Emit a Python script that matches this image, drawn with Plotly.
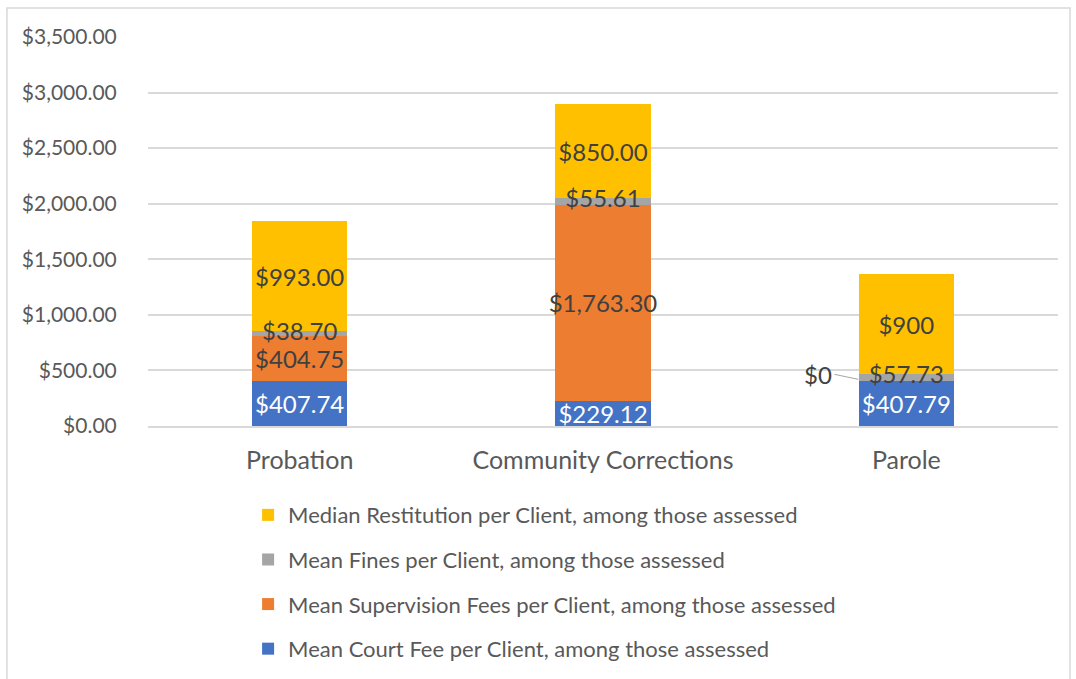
import plotly.graph_objects as go

# categories and series
categories = ['Probation', 'Community Corrections', 'Parole']

court_fee = [407.74, 229.12, 407.79]
supervision_fee = [404.75, 1763.30, 0]
fines = [38.70, 55.61, 57.73]
restitution = [993.00, 850.00, 900]

court_labels = ['$407.74', '$229.12', '$407.79']
supervision_labels = ['$404.75', '$1,763.30', '']
fines_labels = ['$38.70', '$55.61', '$57.73']
restitution_labels = ['$993.00', '$850.00', '$900']

series = [
    ('Mean Court Fee per Client, among those assessed', court_fee, court_labels, '#4472C4', 'white'),
    ('Mean Supervision Fees per Client, among those assessed', supervision_fee, supervision_labels, '#ED7D31', '#404040'),
    ('Mean Fines per Client, among those assessed', fines, fines_labels, '#A5A5A5', '#404040'),
    ('Median Restitution per Client, among those assessed', restitution, restitution_labels, '#FFC000', '#404040'),
]

FONT = 'Lato'
LABEL_SIZE = 24

fig = go.Figure()

for i, (name, vals, labels, color, tcolor) in enumerate(series):
    is_fines = vals is fines
    fig.add_trace(go.Bar(
        x=categories,
        y=vals,
        name=name,
        text=None if is_fines else labels,
        textposition='inside',
        insidetextanchor='middle',
        textangle=0,
        constraintext='none',
        textfont=dict(family=FONT, size=LABEL_SIZE, color=tcolor),
        marker=dict(color=color, line=dict(width=0)),
        width=0.315,
        legendgroup=str(i),
        legendrank=10 - i,
        hoverinfo='skip',
    ))

# fines labels sit on top of the thin grey segments, drawn above all bars
fines_mid = [c + s + f / 2 for c, s, f in zip(court_fee, supervision_fee, fines)]
fig.add_trace(go.Scatter(
    x=categories, y=fines_mid,
    mode='text', text=fines_labels,
    textfont=dict(family=FONT, size=LABEL_SIZE, color='#404040'),
    showlegend=False, hoverinfo='skip',
))

# "$0" label for the Parole supervision fee, with a leader line
fig.add_annotation(
    x=2 - 0.158, y=court_fee[2] + 12,
    xref='x', yref='y',
    text='$0',
    showarrow=True, arrowhead=0, arrowwidth=1, arrowcolor='#a6a6a6',
    ax=-24, ay=-5,
    xanchor='right',
    font=dict(family=FONT, size=LABEL_SIZE, color='#404040'),
)

# outer chart border
fig.add_shape(
    type='rect', xref='paper', yref='paper',
    x0=-0.155, x1=1.0132, y0=-0.70, y1=1.0746,
    line=dict(color='#d9d9d9', width=1.5),
    fillcolor='rgba(0,0,0,0)',
)

# figure is a little taller than the window so the legend fits below the plot
fig.update_layout(
    barmode='stack',
    width=1076,
    height=700,
    margin=dict(l=148, r=18, t=37, b=274),
    paper_bgcolor='white',
    plot_bgcolor='white',
    font=dict(family=FONT, color='#595959'),
    showlegend=True,
    legend=dict(
        traceorder='grouped',
        tracegroupgap=13,
        x=0.110, y=-0.175,
        xanchor='left', yanchor='top',
        font=dict(family=FONT, size=22, color='#595959'),
        itemwidth=30,
    ),
    xaxis=dict(
        tickfont=dict(family=FONT, size=25, color='#595959'),
        showline=True, linecolor='#d9d9d9', linewidth=1.5,
        ticks='outside', ticklen=11, tickcolor='rgba(0,0,0,0)',
    ),
    yaxis=dict(
        range=[0, 3500],
        dtick=500,
        tickprefix='$',
        tickformat=',.2f',
        tickfont=dict(family=FONT, size=21, color='#595959'),
        gridcolor='#d9d9d9', gridwidth=1.5,
        zeroline=False,
        ticks='outside', ticklen=26, tickcolor='rgba(0,0,0,0)',
    ),
)

fig.write_html('out.html', config={'displayModeBar': False},
               post_script="document.body.style.margin='0px';"
                           "document.body.style.overflow='hidden';")
